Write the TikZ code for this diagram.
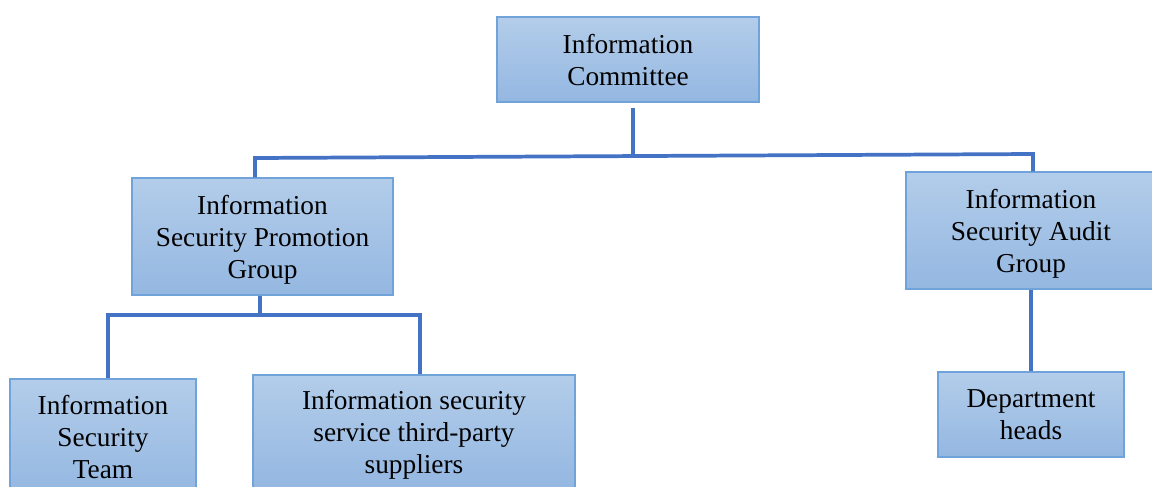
\documentclass[tikz,border=0pt]{standalone}
\usepackage{fontspec}
\setmainfont{Liberation Serif}
\begin{document}
\begin{tikzpicture}[x=0.75pt,y=-0.75pt,
  orgbox/.style={draw=boxedge,line width=0.9pt,top color=boxtop,bottom color=boxbot,
    align=center,inner sep=0pt,text depth=0pt,font=\fontsize{20.5}{24}\selectfont},
  link/.style={draw=linkblue,line width=2.8pt}]
\definecolor{boxtop}{HTML}{B3CDEA}
\definecolor{boxbot}{HTML}{94B7E1}
\definecolor{boxedge}{HTML}{6FA3DA}
\definecolor{linkblue}{HTML}{4472C4}
\clip (0,0) rectangle (1152,486);
\fill[white] (0,0) rectangle (1152,486);

% boxes
\node[orgbox,minimum width=262*0.75pt,minimum height=85*0.75pt] (ic) at (628,59.5)
  {Information\\Committee};
\node[orgbox,minimum width=261*0.75pt,minimum height=117*0.75pt] (ispg) at (262.5,236.5)
  {Information\\Security Promotion\\Group};
\node[orgbox,minimum width=250*0.75pt,minimum height=117*0.75pt] (isag) at (1031,230.5)
  {Information\\Security Audit\\Group};
\node[orgbox,minimum width=186*0.75pt,minimum height=116*0.75pt] (ist) at (103,437)
  {Information\\Security\\Team};
\node[orgbox,minimum width=322*0.75pt,minimum height=114*0.75pt] (tps) at (414,432)
  {Information security\\service third-party\\suppliers};
\node[orgbox,minimum width=186*0.75pt,minimum height=85*0.75pt] (dh) at (1031,414.5)
  {Department\\heads};

% junction points of the connector buses
\coordinate (busL) at (255,158);
\coordinate (busR) at (1033,154);
\coordinate (busM) at (633,156);
\coordinate (subL) at (108,315);
\coordinate (subR) at (420,315);
\coordinate (subM) at (260,315);

% top level bus
\draw[link,shorten <=4pt] (ic.south -| busM) -- (busM);
\draw[link] (ispg.north -| busL) -- (busL) -- (busR) -- (isag.north -| busR);

% promotion group bus
\draw[link] (ispg.south -| subM) -- (subM);
\draw[link] (ist.north -| subL) |- (subR) -- (tps.north -| subR);

% audit group branch
\draw[link] (isag.south) -- (dh.north);
\end{tikzpicture}
\end{document}
